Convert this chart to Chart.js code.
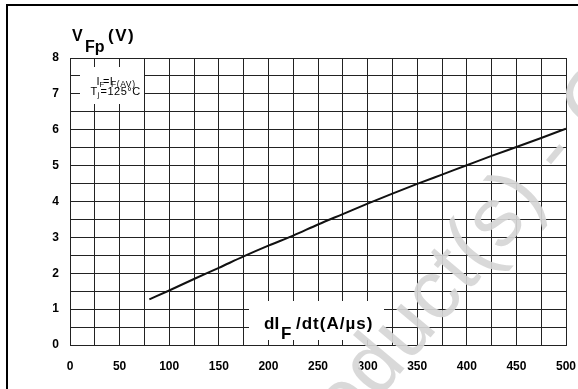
<!DOCTYPE html>
<html>
<head>
<meta charset="utf-8">
<style>
  html, body { margin: 0; padding: 0; background: #fff; }
  #wrap { position: relative; width: 578px; height: 389px; overflow: hidden; }
  canvas { display: block; }
</style>
<script src="https://cdn.jsdelivr.net/npm/chart.js@4.4.1/dist/chart.umd.min.js"></script>
</head>
<body>
<div id="wrap"><canvas id="c" width="578" height="389"></canvas></div>
<script>
// Peak forward voltage versus dIF/dt, IF = IF(AV), Tj = 125 °C
const dIdt = [80, 100, 125, 150, 175, 200, 225, 250, 275, 300, 325, 350, 375, 400, 425, 450, 475, 500];
const vfp  = [1.27, 1.52, 1.84, 2.15, 2.47, 2.77, 3.05, 3.36, 3.65, 3.94, 4.22, 4.49, 4.75, 5.01, 5.27, 5.52, 5.77, 6.03];

const xLabels = [0, 50, 100, 150, 200, 250, 300, 350, 400, 450, 500];
const yLabels = [0, 1, 2, 3, 4, 5, 6, 7, 8];

const FONT = "'Liberation Sans', Arial, Helvetica, sans-serif";
const GRID = '#222';

// draw a list of text runs: [text, size, bold, x, baseline, letterSpacing]
function runs(ctx, list) {
  ctx.save();
  ctx.fillStyle = '#000';
  ctx.textAlign = 'left';
  ctx.textBaseline = 'alphabetic';
  for (const [t, size, bold, x, y, ls] of list) {
    ctx.font = (bold ? 'bold ' : '') + size + 'px ' + FONT;
    if ('letterSpacing' in ctx) ctx.letterSpacing = (ls || 0) + 'px';
    ctx.fillText(t, x, y);
  }
  ctx.restore();
}

const decor = {
  id: 'decor',
  afterDraw(chart) {
    const ctx = chart.ctx;
    ctx.save();
    // page frame
    ctx.fillStyle = '#000';
    ctx.fillRect(6, 4, 572, 2);
    ctx.fillRect(6, 4, 2, 385);

    // white panels behind the in-plot captions
    ctx.fillStyle = '#fff';
    ctx.fillRect(80, 67, 64, 37);
    ctx.fillRect(249, 301, 135, 39);
    ctx.restore();

    // axis titles
    runs(ctx, [
      ['V', 16, true, 72, 40.5, 0],
      ['Fp', 16, true, 85, 51.5, 0],
      ['(V)', 17, true, 108, 41, 1.5],
      ['dI', 17, true, 264, 328.5, 0],
      ['F', 17, true, 281, 338.5, 0],
      ['/dt(A/µs)', 17, true, 296, 328.5, 1],
      // operating conditions
      ['I', 11, false, 96.5, 84.5, 0],
      ['F', 7.5, false, 99.5, 86.5, 0],
      ['=I', 11, false, 103, 84.5, 0.3],
      ['F(AV)', 8.5, false, 111, 86.5, 0.6],
      ['T', 11, false, 90.5, 94.8, 0],
      ['j', 7.5, false, 97.5, 97, 0],
      ['=125°C', 11, false, 100.5, 94.8, 0.5]
    ]);

    // watermark
    ctx.save();
    ctx.fillStyle = 'rgba(214,214,214,0.92)';
    ctx.font = '84px ' + FONT;
    if ('letterSpacing' in ctx) ctx.letterSpacing = '1px';
    const a = -50 * Math.PI / 180;
    const lead = ctx.measureText('Pro').width;
    const ax = 378 - Math.cos(a) * lead;
    const ay = 400 - Math.sin(a) * lead;
    ctx.translate(ax, ay);
    ctx.rotate(a);
    ctx.fillText('Product(s) - Obsolete Product(s)', 0, 0);
    ctx.restore();
  }
};

new Chart(document.getElementById('c'), {
  type: 'line',
  data: {
    datasets: [{
      data: dIdt.map((x, i) => ({ x, y: vfp[i] })),
      borderColor: '#111',
      borderWidth: 2,
      pointRadius: 0,
      fill: false,
      cubicInterpolationMode: 'monotone'
    }]
  },
  options: {
    responsive: false,
    animation: false,
    devicePixelRatio: 1,
    layout: { padding: { top: 58, right: 12, left: 0, bottom: 0 } },
    plugins: { legend: { display: false }, tooltip: { enabled: false } },
    scales: {
      x: {
        type: 'linear',
        min: 0, max: 500,
        afterFit(s) { s.height = 44; s.paddingLeft = 0; s.paddingRight = 0; },
        afterBuildTicks(s) {
          const t = [];
          for (let v = 0; v <= 500; v += 25) t.push({ value: v });
          s.ticks = t;
        },
        grid: { color: GRID, lineWidth: 1, drawTicks: false },
        border: { display: true, color: GRID, width: 1 },
        ticks: {
          autoSkip: false,
          maxRotation: 0,
          padding: 14,
          color: '#000',
          font: { family: FONT, size: 12, weight: 'bold' },
          callback: v => xLabels.includes(v) ? String(v) : ''
        }
      },
      y: {
        type: 'linear',
        min: 0, max: 8,
        afterFit(s) { s.width = 70; s.paddingTop = 0; s.paddingBottom = 0; },
        afterBuildTicks(s) {
          const t = [];
          for (let v = 0; v <= 8; v += 0.5) t.push({ value: v });
          s.ticks = t;
        },
        grid: { color: GRID, lineWidth: 1, drawTicks: false },
        border: { display: true, color: GRID, width: 1 },
        ticks: {
          autoSkip: false,
          padding: 11,
          color: '#000',
          font: { family: FONT, size: 12, weight: 'bold' },
          callback: v => yLabels.includes(v) ? String(v) : ''
        }
      }
    }
  },
  plugins: [decor]
});
</script>
</body>
</html>
